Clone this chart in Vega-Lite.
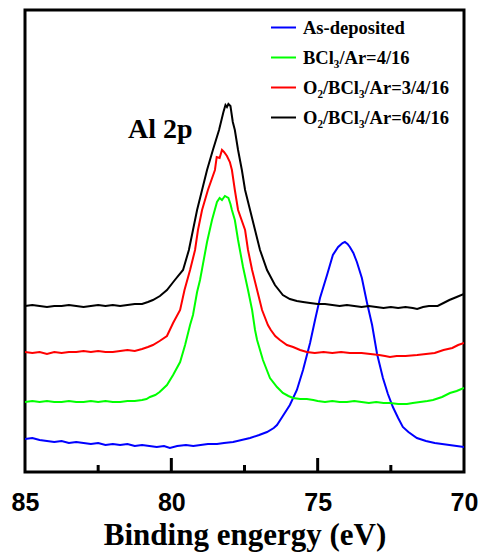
{
  "$schema": "https://vega.github.io/schema/vega-lite/v6.json",
  "width": 439,
  "height": 462,
  "autosize": {"type": "none"},
  "padding": {"left": 25, "top": 10, "right": 16, "bottom": 84},
  "background": "white",
  "config": {"view": {"stroke": "black", "strokeWidth": 3}},
  "datasets": {
    "spectra": [
      {"series":"As-deposited","energy":85.0,"intensity":33},{"series":"As-deposited","energy":84.75,"intensity":34},{"series":"As-deposited","energy":84.5,"intensity":32},{"series":"As-deposited","energy":84.25,"intensity":31},{"series":"As-deposited","energy":84.0,"intensity":30},{"series":"As-deposited","energy":83.75,"intensity":31},{"series":"As-deposited","energy":83.5,"intensity":29},{"series":"As-deposited","energy":83.25,"intensity":30},{"series":"As-deposited","energy":83.0,"intensity":29},{"series":"As-deposited","energy":82.75,"intensity":28},{"series":"As-deposited","energy":82.5,"intensity":29},{"series":"As-deposited","energy":82.25,"intensity":27},{"series":"As-deposited","energy":82.0,"intensity":28},{"series":"As-deposited","energy":81.75,"intensity":27},{"series":"As-deposited","energy":81.5,"intensity":28},{"series":"As-deposited","energy":81.25,"intensity":26},{"series":"As-deposited","energy":81.0,"intensity":27},{"series":"As-deposited","energy":80.75,"intensity":26},{"series":"As-deposited","energy":80.5,"intensity":25},{"series":"As-deposited","energy":80.25,"intensity":26},{"series":"As-deposited","energy":80.05,"intensity":24},{"series":"As-deposited","energy":79.8,"intensity":26},{"series":"As-deposited","energy":79.5,"intensity":27},{"series":"As-deposited","energy":79.25,"intensity":26},{"series":"As-deposited","energy":79.0,"intensity":27},{"series":"As-deposited","energy":78.75,"intensity":28},{"series":"As-deposited","energy":78.44,"intensity":28},{"series":"As-deposited","energy":78.2,"intensity":29},{"series":"As-deposited","energy":77.89,"intensity":30},{"series":"As-deposited","energy":77.6,"intensity":32},{"series":"As-deposited","energy":77.31,"intensity":34},{"series":"As-deposited","energy":77.0,"intensity":37},{"series":"As-deposited","energy":76.73,"intensity":40},{"series":"As-deposited","energy":76.5,"intensity":44},{"series":"As-deposited","energy":76.39,"intensity":47},{"series":"As-deposited","energy":76.19,"intensity":56},{"series":"As-deposited","energy":75.95,"intensity":67},{"series":"As-deposited","energy":75.71,"intensity":82},{"series":"As-deposited","energy":75.5,"intensity":102},{"series":"As-deposited","energy":75.26,"intensity":129},{"series":"As-deposited","energy":75.09,"intensity":152},{"series":"As-deposited","energy":74.92,"intensity":174},{"series":"As-deposited","energy":74.68,"intensity":197},{"series":"As-deposited","energy":74.48,"intensity":217},{"series":"As-deposited","energy":74.3,"intensity":225},{"series":"As-deposited","energy":74.15,"intensity":229},{"series":"As-deposited","energy":74.07,"intensity":230},{"series":"As-deposited","energy":73.98,"intensity":228},{"series":"As-deposited","energy":73.9,"intensity":225},{"series":"As-deposited","energy":73.78,"intensity":219},{"series":"As-deposited","energy":73.66,"intensity":210},{"series":"As-deposited","energy":73.49,"intensity":194},{"series":"As-deposited","energy":73.32,"intensity":170},{"series":"As-deposited","energy":73.14,"intensity":147},{"series":"As-deposited","energy":72.97,"intensity":118},{"series":"As-deposited","energy":72.77,"intensity":94},{"series":"As-deposited","energy":72.6,"intensity":78},{"series":"As-deposited","energy":72.43,"intensity":65},{"series":"As-deposited","energy":72.25,"intensity":54},{"series":"As-deposited","energy":72.09,"intensity":45},{"series":"As-deposited","energy":71.9,"intensity":40},{"series":"As-deposited","energy":71.61,"intensity":34},{"series":"As-deposited","energy":71.3,"intensity":31},{"series":"As-deposited","energy":71.0,"intensity":29},{"series":"As-deposited","energy":70.75,"intensity":28},{"series":"As-deposited","energy":70.5,"intensity":27},{"series":"As-deposited","energy":70.25,"intensity":26},{"series":"As-deposited","energy":70.0,"intensity":25},

      {"series":"BCl₃/Ar=4/16","energy":85.0,"intensity":70},{"series":"BCl₃/Ar=4/16","energy":84.75,"intensity":71},{"series":"BCl₃/Ar=4/16","energy":84.5,"intensity":70},{"series":"BCl₃/Ar=4/16","energy":84.25,"intensity":71},{"series":"BCl₃/Ar=4/16","energy":84.0,"intensity":70},{"series":"BCl₃/Ar=4/16","energy":83.75,"intensity":70},{"series":"BCl₃/Ar=4/16","energy":83.5,"intensity":71},{"series":"BCl₃/Ar=4/16","energy":83.25,"intensity":70},{"series":"BCl₃/Ar=4/16","energy":83.0,"intensity":70},{"series":"BCl₃/Ar=4/16","energy":82.75,"intensity":71},{"series":"BCl₃/Ar=4/16","energy":82.5,"intensity":70},{"series":"BCl₃/Ar=4/16","energy":82.25,"intensity":71},{"series":"BCl₃/Ar=4/16","energy":82.0,"intensity":70},{"series":"BCl₃/Ar=4/16","energy":81.75,"intensity":70},{"series":"BCl₃/Ar=4/16","energy":81.5,"intensity":71},{"series":"BCl₃/Ar=4/16","energy":81.25,"intensity":71},{"series":"BCl₃/Ar=4/16","energy":81.0,"intensity":72},{"series":"BCl₃/Ar=4/16","energy":80.85,"intensity":73},{"series":"BCl₃/Ar=4/16","energy":80.73,"intensity":75},{"series":"BCl₃/Ar=4/16","energy":80.55,"intensity":77},{"series":"BCl₃/Ar=4/16","energy":80.4,"intensity":80},{"series":"BCl₃/Ar=4/16","energy":80.15,"intensity":87},{"series":"BCl₃/Ar=4/16","energy":79.94,"intensity":97},{"series":"BCl₃/Ar=4/16","energy":79.7,"intensity":110},{"series":"BCl₃/Ar=4/16","energy":79.53,"intensity":127},{"series":"BCl₃/Ar=4/16","energy":79.36,"intensity":147},{"series":"BCl₃/Ar=4/16","energy":79.26,"intensity":157},{"series":"BCl₃/Ar=4/16","energy":79.12,"intensity":180},{"series":"BCl₃/Ar=4/16","energy":79.02,"intensity":192},{"series":"BCl₃/Ar=4/16","energy":78.95,"intensity":203},{"series":"BCl₃/Ar=4/16","energy":78.78,"intensity":230},{"series":"BCl₃/Ar=4/16","energy":78.61,"intensity":252},{"series":"BCl₃/Ar=4/16","energy":78.44,"intensity":270},{"series":"BCl₃/Ar=4/16","energy":78.35,"intensity":274},{"series":"BCl₃/Ar=4/16","energy":78.27,"intensity":272},{"series":"BCl₃/Ar=4/16","energy":78.17,"intensity":276},{"series":"BCl₃/Ar=4/16","energy":78.05,"intensity":274},{"series":"BCl₃/Ar=4/16","energy":77.98,"intensity":268},{"series":"BCl₃/Ar=4/16","energy":77.93,"intensity":262},{"series":"BCl₃/Ar=4/16","energy":77.83,"intensity":252},{"series":"BCl₃/Ar=4/16","energy":77.72,"intensity":232},{"series":"BCl₃/Ar=4/16","energy":77.55,"intensity":205},{"series":"BCl₃/Ar=4/16","energy":77.38,"intensity":182},{"series":"BCl₃/Ar=4/16","energy":77.24,"intensity":162},{"series":"BCl₃/Ar=4/16","energy":77.14,"intensity":142},{"series":"BCl₃/Ar=4/16","energy":77.07,"intensity":132},{"series":"BCl₃/Ar=4/16","energy":76.87,"intensity":112},{"series":"BCl₃/Ar=4/16","energy":76.63,"intensity":94},{"series":"BCl₃/Ar=4/16","energy":76.39,"intensity":85},{"series":"BCl₃/Ar=4/16","energy":76.19,"intensity":79},{"series":"BCl₃/Ar=4/16","energy":76.0,"intensity":76},{"series":"BCl₃/Ar=4/16","energy":75.84,"intensity":74},{"series":"BCl₃/Ar=4/16","energy":75.6,"intensity":73},{"series":"BCl₃/Ar=4/16","energy":75.37,"intensity":73},{"series":"BCl₃/Ar=4/16","energy":75.15,"intensity":72},{"series":"BCl₃/Ar=4/16","energy":75.0,"intensity":71},{"series":"BCl₃/Ar=4/16","energy":74.75,"intensity":70},{"series":"BCl₃/Ar=4/16","energy":74.5,"intensity":71},{"series":"BCl₃/Ar=4/16","energy":74.25,"intensity":70},{"series":"BCl₃/Ar=4/16","energy":74.0,"intensity":70},{"series":"BCl₃/Ar=4/16","energy":73.75,"intensity":71},{"series":"BCl₃/Ar=4/16","energy":73.5,"intensity":70},{"series":"BCl₃/Ar=4/16","energy":73.25,"intensity":69},{"series":"BCl₃/Ar=4/16","energy":73.0,"intensity":70},{"series":"BCl₃/Ar=4/16","energy":72.75,"intensity":69},{"series":"BCl₃/Ar=4/16","energy":72.53,"intensity":69},{"series":"BCl₃/Ar=4/16","energy":72.25,"intensity":68},{"series":"BCl₃/Ar=4/16","energy":71.95,"intensity":68},{"series":"BCl₃/Ar=4/16","energy":71.75,"intensity":69},{"series":"BCl₃/Ar=4/16","energy":71.5,"intensity":70},{"series":"BCl₃/Ar=4/16","energy":71.25,"intensity":71},{"series":"BCl₃/Ar=4/16","energy":71.06,"intensity":72},{"series":"BCl₃/Ar=4/16","energy":70.75,"intensity":75},{"series":"BCl₃/Ar=4/16","energy":70.48,"intensity":79},{"series":"BCl₃/Ar=4/16","energy":70.25,"intensity":81},{"series":"BCl₃/Ar=4/16","energy":70.0,"intensity":84},

      {"series":"O₂/BCl₃/Ar=3/4/16","energy":85.0,"intensity":120},{"series":"O₂/BCl₃/Ar=3/4/16","energy":84.75,"intensity":119},{"series":"O₂/BCl₃/Ar=3/4/16","energy":84.5,"intensity":120},{"series":"O₂/BCl₃/Ar=3/4/16","energy":84.25,"intensity":118},{"series":"O₂/BCl₃/Ar=3/4/16","energy":84.0,"intensity":120},{"series":"O₂/BCl₃/Ar=3/4/16","energy":83.75,"intensity":119},{"series":"O₂/BCl₃/Ar=3/4/16","energy":83.5,"intensity":120},{"series":"O₂/BCl₃/Ar=3/4/16","energy":83.25,"intensity":120},{"series":"O₂/BCl₃/Ar=3/4/16","energy":83.0,"intensity":121},{"series":"O₂/BCl₃/Ar=3/4/16","energy":82.75,"intensity":120},{"series":"O₂/BCl₃/Ar=3/4/16","energy":82.5,"intensity":121},{"series":"O₂/BCl₃/Ar=3/4/16","energy":82.25,"intensity":120},{"series":"O₂/BCl₃/Ar=3/4/16","energy":82.0,"intensity":120},{"series":"O₂/BCl₃/Ar=3/4/16","energy":81.75,"intensity":121},{"series":"O₂/BCl₃/Ar=3/4/16","energy":81.5,"intensity":122},{"series":"O₂/BCl₃/Ar=3/4/16","energy":81.25,"intensity":121},{"series":"O₂/BCl₃/Ar=3/4/16","energy":81.0,"intensity":123},{"series":"O₂/BCl₃/Ar=3/4/16","energy":80.8,"intensity":125},{"series":"O₂/BCl₃/Ar=3/4/16","energy":80.63,"intensity":127},{"series":"O₂/BCl₃/Ar=3/4/16","energy":80.4,"intensity":131},{"series":"O₂/BCl₃/Ar=3/4/16","energy":80.15,"intensity":136},{"series":"O₂/BCl₃/Ar=3/4/16","energy":79.94,"intensity":149},{"series":"O₂/BCl₃/Ar=3/4/16","energy":79.7,"intensity":162},{"series":"O₂/BCl₃/Ar=3/4/16","energy":79.55,"intensity":182},{"series":"O₂/BCl₃/Ar=3/4/16","energy":79.36,"intensity":202},{"series":"O₂/BCl₃/Ar=3/4/16","energy":79.19,"intensity":222},{"series":"O₂/BCl₃/Ar=3/4/16","energy":79.09,"intensity":242},{"series":"O₂/BCl₃/Ar=3/4/16","energy":78.95,"intensity":262},{"series":"O₂/BCl₃/Ar=3/4/16","energy":78.75,"intensity":282},{"series":"O₂/BCl₃/Ar=3/4/16","energy":78.51,"intensity":302},{"series":"O₂/BCl₃/Ar=3/4/16","energy":78.45,"intensity":315},{"series":"O₂/BCl₃/Ar=3/4/16","energy":78.35,"intensity":314},{"series":"O₂/BCl₃/Ar=3/4/16","energy":78.27,"intensity":322},{"series":"O₂/BCl₃/Ar=3/4/16","energy":78.2,"intensity":320},{"series":"O₂/BCl₃/Ar=3/4/16","energy":78.1,"intensity":316},{"series":"O₂/BCl₃/Ar=3/4/16","energy":78.0,"intensity":310},{"series":"O₂/BCl₃/Ar=3/4/16","energy":77.93,"intensity":302},{"series":"O₂/BCl₃/Ar=3/4/16","energy":77.83,"intensity":282},{"series":"O₂/BCl₃/Ar=3/4/16","energy":77.72,"intensity":262},{"series":"O₂/BCl₃/Ar=3/4/16","energy":77.48,"intensity":242},{"series":"O₂/BCl₃/Ar=3/4/16","energy":77.38,"intensity":222},{"series":"O₂/BCl₃/Ar=3/4/16","energy":77.24,"intensity":202},{"series":"O₂/BCl₃/Ar=3/4/16","energy":77.07,"intensity":182},{"series":"O₂/BCl₃/Ar=3/4/16","energy":76.9,"intensity":162},{"series":"O₂/BCl₃/Ar=3/4/16","energy":76.7,"intensity":147},{"series":"O₂/BCl₃/Ar=3/4/16","energy":76.6,"intensity":142},{"series":"O₂/BCl₃/Ar=3/4/16","energy":76.45,"intensity":136},{"series":"O₂/BCl₃/Ar=3/4/16","energy":76.29,"intensity":132},{"series":"O₂/BCl₃/Ar=3/4/16","energy":76.05,"intensity":127},{"series":"O₂/BCl₃/Ar=3/4/16","energy":75.84,"intensity":125},{"series":"O₂/BCl₃/Ar=3/4/16","energy":75.6,"intensity":122},{"series":"O₂/BCl₃/Ar=3/4/16","energy":75.37,"intensity":120},{"series":"O₂/BCl₃/Ar=3/4/16","energy":75.1,"intensity":119},{"series":"O₂/BCl₃/Ar=3/4/16","energy":74.8,"intensity":120},{"series":"O₂/BCl₃/Ar=3/4/16","energy":74.5,"intensity":119},{"series":"O₂/BCl₃/Ar=3/4/16","energy":74.2,"intensity":120},{"series":"O₂/BCl₃/Ar=3/4/16","energy":73.9,"intensity":119},{"series":"O₂/BCl₃/Ar=3/4/16","energy":73.5,"intensity":119},{"series":"O₂/BCl₃/Ar=3/4/16","energy":73.2,"intensity":118},{"series":"O₂/BCl₃/Ar=3/4/16","energy":72.9,"intensity":117},{"series":"O₂/BCl₃/Ar=3/4/16","energy":72.7,"intensity":116},{"series":"O₂/BCl₃/Ar=3/4/16","energy":72.53,"intensity":115},{"series":"O₂/BCl₃/Ar=3/4/16","energy":72.3,"intensity":116},{"series":"O₂/BCl₃/Ar=3/4/16","energy":72.0,"intensity":116},{"series":"O₂/BCl₃/Ar=3/4/16","energy":71.6,"intensity":117},{"series":"O₂/BCl₃/Ar=3/4/16","energy":71.3,"intensity":118},{"series":"O₂/BCl₃/Ar=3/4/16","energy":71.0,"intensity":119},{"series":"O₂/BCl₃/Ar=3/4/16","energy":70.7,"intensity":122},{"series":"O₂/BCl₃/Ar=3/4/16","energy":70.4,"intensity":124},{"series":"O₂/BCl₃/Ar=3/4/16","energy":70.2,"intensity":127},{"series":"O₂/BCl₃/Ar=3/4/16","energy":70.0,"intensity":129},

      {"series":"O₂/BCl₃/Ar=6/4/16","energy":85.0,"intensity":166},{"series":"O₂/BCl₃/Ar=6/4/16","energy":84.75,"intensity":167},{"series":"O₂/BCl₃/Ar=6/4/16","energy":84.5,"intensity":166},{"series":"O₂/BCl₃/Ar=6/4/16","energy":84.25,"intensity":165},{"series":"O₂/BCl₃/Ar=6/4/16","energy":84.0,"intensity":166},{"series":"O₂/BCl₃/Ar=6/4/16","energy":83.75,"intensity":166},{"series":"O₂/BCl₃/Ar=6/4/16","energy":83.5,"intensity":167},{"series":"O₂/BCl₃/Ar=6/4/16","energy":83.25,"intensity":166},{"series":"O₂/BCl₃/Ar=6/4/16","energy":83.0,"intensity":165},{"series":"O₂/BCl₃/Ar=6/4/16","energy":82.75,"intensity":166},{"series":"O₂/BCl₃/Ar=6/4/16","energy":82.5,"intensity":167},{"series":"O₂/BCl₃/Ar=6/4/16","energy":82.25,"intensity":166},{"series":"O₂/BCl₃/Ar=6/4/16","energy":82.0,"intensity":167},{"series":"O₂/BCl₃/Ar=6/4/16","energy":81.75,"intensity":166},{"series":"O₂/BCl₃/Ar=6/4/16","energy":81.5,"intensity":167},{"series":"O₂/BCl₃/Ar=6/4/16","energy":81.25,"intensity":168},{"series":"O₂/BCl₃/Ar=6/4/16","energy":81.0,"intensity":168},{"series":"O₂/BCl₃/Ar=6/4/16","energy":80.8,"intensity":170},{"series":"O₂/BCl₃/Ar=6/4/16","energy":80.63,"intensity":172},{"series":"O₂/BCl₃/Ar=6/4/16","energy":80.39,"intensity":176},{"series":"O₂/BCl₃/Ar=6/4/16","energy":80.15,"intensity":182},{"series":"O₂/BCl₃/Ar=6/4/16","energy":79.88,"intensity":192},{"series":"O₂/BCl₃/Ar=6/4/16","energy":79.6,"intensity":202},{"series":"O₂/BCl₃/Ar=6/4/16","energy":79.4,"intensity":222},{"series":"O₂/BCl₃/Ar=6/4/16","energy":79.26,"intensity":242},{"series":"O₂/BCl₃/Ar=6/4/16","energy":79.12,"intensity":262},{"series":"O₂/BCl₃/Ar=6/4/16","energy":78.95,"intensity":282},{"series":"O₂/BCl₃/Ar=6/4/16","energy":78.78,"intensity":302},{"series":"O₂/BCl₃/Ar=6/4/16","energy":78.58,"intensity":322},{"series":"O₂/BCl₃/Ar=6/4/16","energy":78.37,"intensity":342},{"series":"O₂/BCl₃/Ar=6/4/16","energy":78.22,"intensity":360},{"series":"O₂/BCl₃/Ar=6/4/16","energy":78.15,"intensity":367},{"series":"O₂/BCl₃/Ar=6/4/16","energy":78.1,"intensity":365},{"series":"O₂/BCl₃/Ar=6/4/16","energy":78.05,"intensity":368},{"series":"O₂/BCl₃/Ar=6/4/16","energy":77.98,"intensity":366},{"series":"O₂/BCl₃/Ar=6/4/16","energy":77.9,"intensity":350},{"series":"O₂/BCl₃/Ar=6/4/16","energy":77.83,"intensity":342},{"series":"O₂/BCl₃/Ar=6/4/16","energy":77.72,"intensity":322},{"series":"O₂/BCl₃/Ar=6/4/16","energy":77.59,"intensity":302},{"series":"O₂/BCl₃/Ar=6/4/16","energy":77.48,"intensity":282},{"series":"O₂/BCl₃/Ar=6/4/16","energy":77.31,"intensity":262},{"series":"O₂/BCl₃/Ar=6/4/16","energy":77.14,"intensity":242},{"series":"O₂/BCl₃/Ar=6/4/16","energy":76.97,"intensity":222},{"series":"O₂/BCl₃/Ar=6/4/16","energy":76.73,"intensity":202},{"series":"O₂/BCl₃/Ar=6/4/16","energy":76.46,"intensity":187},{"series":"O₂/BCl₃/Ar=6/4/16","energy":76.19,"intensity":177},{"series":"O₂/BCl₃/Ar=6/4/16","energy":75.95,"intensity":173},{"series":"O₂/BCl₃/Ar=6/4/16","energy":75.71,"intensity":171},{"series":"O₂/BCl₃/Ar=6/4/16","energy":75.5,"intensity":170},{"series":"O₂/BCl₃/Ar=6/4/16","energy":75.26,"intensity":169},{"series":"O₂/BCl₃/Ar=6/4/16","energy":75.0,"intensity":168},{"series":"O₂/BCl₃/Ar=6/4/16","energy":74.75,"intensity":168},{"series":"O₂/BCl₃/Ar=6/4/16","energy":74.5,"intensity":167},{"series":"O₂/BCl₃/Ar=6/4/16","energy":74.25,"intensity":166},{"series":"O₂/BCl₃/Ar=6/4/16","energy":74.0,"intensity":167},{"series":"O₂/BCl₃/Ar=6/4/16","energy":73.75,"intensity":166},{"series":"O₂/BCl₃/Ar=6/4/16","energy":73.5,"intensity":165},{"series":"O₂/BCl₃/Ar=6/4/16","energy":73.25,"intensity":166},{"series":"O₂/BCl₃/Ar=6/4/16","energy":73.0,"intensity":165},{"series":"O₂/BCl₃/Ar=6/4/16","energy":72.75,"intensity":164},{"series":"O₂/BCl₃/Ar=6/4/16","energy":72.5,"intensity":165},{"series":"O₂/BCl₃/Ar=6/4/16","energy":72.25,"intensity":164},{"series":"O₂/BCl₃/Ar=6/4/16","energy":72.0,"intensity":165},{"series":"O₂/BCl₃/Ar=6/4/16","energy":71.75,"intensity":164},{"series":"O₂/BCl₃/Ar=6/4/16","energy":71.6,"intensity":163},{"series":"O₂/BCl₃/Ar=6/4/16","energy":71.4,"intensity":165},{"series":"O₂/BCl₃/Ar=6/4/16","energy":71.2,"intensity":166},{"series":"O₂/BCl₃/Ar=6/4/16","energy":70.9,"intensity":166},{"series":"O₂/BCl₃/Ar=6/4/16","energy":70.7,"intensity":169},{"series":"O₂/BCl₃/Ar=6/4/16","energy":70.5,"intensity":172},{"series":"O₂/BCl₃/Ar=6/4/16","energy":70.25,"intensity":175},{"series":"O₂/BCl₃/Ar=6/4/16","energy":70.0,"intensity":178}
    ],
    "annotation": [{"label": "Al 2p", "energy": 81.48, "intensity": 334}],
    "majorTicks": [{"energy": 80}, {"energy": 75}],
    "minorTicks": [{"energy": 82.5}, {"energy": 77.5}, {"energy": 72.5}]
  },
  "layer": [
    {
      "data": {"name": "spectra"},
      "mark": {"type": "line", "strokeWidth": 2, "clip": true},
      "encoding": {
        "x": {
          "field": "energy", "type": "quantitative",
          "scale": {"domain": [85, 70], "nice": false, "zero": false},
          "axis": {
            "title": "Binding engergy (eV)",
            "values": [85, 80, 75, 70],
            "ticks": false,
            "domain": false,
            "grid": false,
            "labelFont": "Liberation Sans",
            "labelFontWeight": "bold",
            "labelFontSize": 25,
            "labelColor": "black",
            "labelPadding": 18,
            "labelFlush": false,
            "labelOverlap": false,
            "titleFont": "Liberation Serif",
            "titleFontWeight": "bold",
            "titleFontSize": 31,
            "titleColor": "black",
            "titlePadding": 5
          }
        },
        "y": {
          "field": "intensity", "type": "quantitative",
          "scale": {"domain": [0, 462], "nice": false, "zero": false},
          "axis": null
        },
        "color": {
          "field": "series", "type": "nominal",
          "scale": {
            "domain": ["As-deposited", "BCl₃/Ar=4/16", "O₂/BCl₃/Ar=3/4/16", "O₂/BCl₃/Ar=6/4/16"],
            "range": ["#0000ff", "#00ff00", "#ff0000", "#000000"]
          },
          "legend": {
            "orient": "none",
            "legendX": 245,
            "legendY": 4,
            "title": null,
            "padding": 0,
            "symbolType": "stroke",
            "symbolSize": 625,
            "symbolStrokeWidth": 2,
            "labelFont": "Liberation Serif",
            "labelFontWeight": "bold",
            "labelFontSize": 18.5,
            "labelColor": "black",
            "labelOffset": 6,
            "rowPadding": 7,
            "labelLimit": 300
          }
        }
      }
    },
    {
      "data": {"name": "majorTicks"},
      "mark": {"type": "rule", "strokeWidth": 3, "color": "black"},
      "encoding": {
        "x": {"field": "energy", "type": "quantitative"},
        "y": {"datum": 0, "type": "quantitative"},
        "y2": {"datum": 14}
      }
    },
    {
      "data": {"name": "minorTicks"},
      "mark": {"type": "rule", "strokeWidth": 3, "color": "black"},
      "encoding": {
        "x": {"field": "energy", "type": "quantitative"},
        "y": {"datum": 0, "type": "quantitative"},
        "y2": {"datum": 7}
      }
    },
    {
      "data": {"name": "annotation"},
      "mark": {"type": "text", "align": "left", "baseline": "alphabetic", "font": "Liberation Serif", "fontWeight": "bold", "fontSize": 28, "color": "black"},
      "encoding": {
        "x": {"field": "energy", "type": "quantitative"},
        "y": {"field": "intensity", "type": "quantitative"},
        "text": {"field": "label"}
      }
    }
  ]
}
